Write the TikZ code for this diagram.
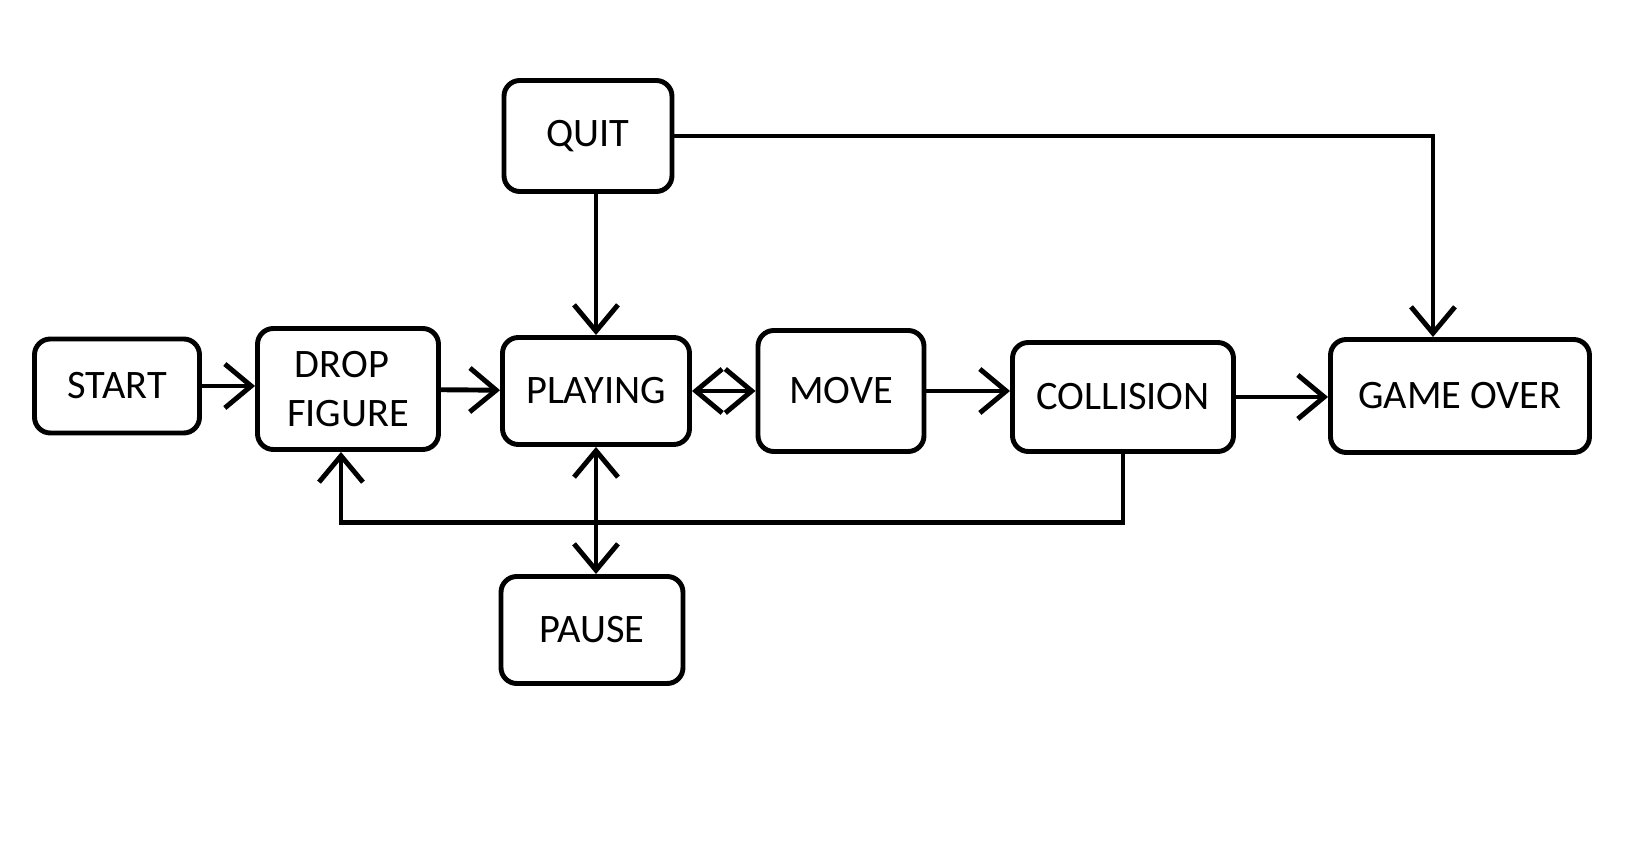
\documentclass[tikz,border=0pt]{standalone}
\usepackage{fontspec}
\setmainfont{Carlito}
\usetikzlibrary{arrows.meta, positioning, calc}

\tikzset{
  state/.style={draw, line width=1.4pt, rounded corners=4.5pt, align=center, inner sep=2pt,
    font=\fontsize{11.5}{14}\selectfont},
  barb/.tip={Straight Barb[length=7.5pt,width=12.5pt,line width=1.4pt]},
  flow/.style={line width=1.4pt, -barb},
  twoway/.style={line width=1.4pt, barb-barb}
}

\begin{document}
\begin{tikzpicture}
        \useasboundingbox (0,0) rectangle (16.44,-8.64);

        % Define the states
        \node[state, minimum width=1.65cm, minimum height=0.94cm] (start) at (1.17,-3.86) {START};
        \node[state, minimum width=1.81cm, minimum height=1.21cm] (drop) at (3.48,-3.89) {\hspace*{-0.12cm}DROP\\FIGURE};
        \node[state, minimum width=1.87cm, minimum height=1.07cm] (playing) at (5.96,-3.91) {PLAYING};
        \node[state, minimum width=1.66cm, minimum height=1.21cm] (move) at (8.41,-3.91) {MOVE};
        \node[state, minimum width=2.21cm, minimum height=1.09cm] (coll) at (11.23,-3.97) {COLLISION};
        \node[state, minimum width=2.59cm, minimum height=1.13cm] (over) at (14.60,-3.96) {GAME OVER};
        \node[state, minimum width=1.68cm, minimum height=1.11cm] (quit) at (5.88,-1.36) {QUIT};
        \node[state, minimum width=1.82cm, minimum height=1.07cm] (pause) at (5.92,-6.30) {PAUSE};

        % Draw arrows
        \draw[flow] (start) -- (start -| drop.west);
        \draw[flow] (drop) -- (playing);
        \draw[twoway] (playing) -- (move);
        \draw[flow] (move.east) -- (move.east -| coll.west);
        \draw[flow] (coll.east) -- (coll.east -| over.west);
        \draw[flow] (quit.south -| playing) -- (playing.north);
        \draw[flow] (quit.east) -| ([xshift=-0.27cm]over.north);
        \draw[twoway] (playing.south) -- (playing.south |- pause.north);
        \draw[flow] (coll.south) -- ++(0,-0.69) -| ([xshift=-0.07cm]drop.south);
    \end{tikzpicture}
\end{document}
